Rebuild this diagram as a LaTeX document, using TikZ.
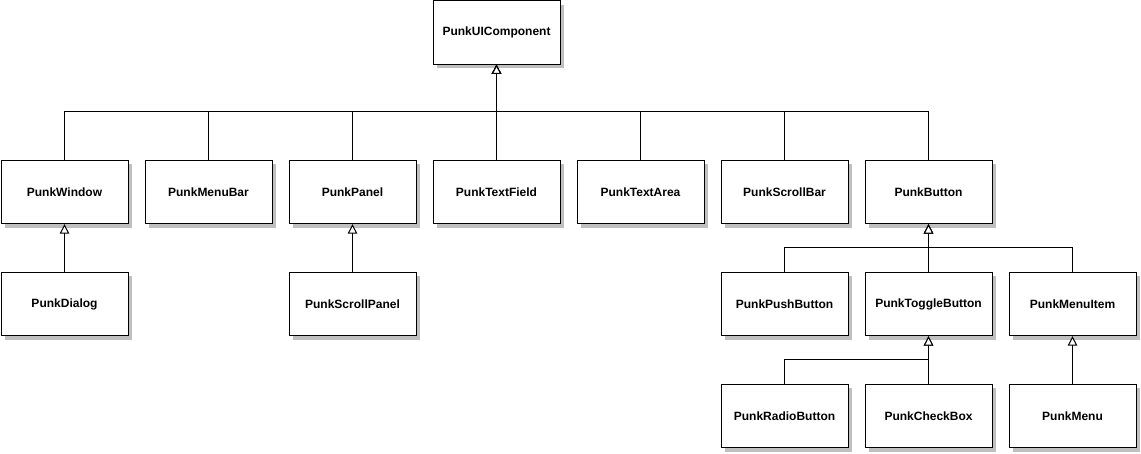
\documentclass[tikz,border=0pt]{standalone}
\usepackage{fontspec}
\setmainfont{Liberation Sans}
\usetikzlibrary{arrows.meta, shadows}

\begin{document}
\begin{tikzpicture}[x = 0.75pt, y = -0.75pt, line width = 0.75pt,
	> = {Triangle[open, length = 7pt, width = 7pt, fill = white]},
	cls/.style = {draw, fill = white, minimum width = 95.25pt, minimum height = 47.5pt,
		font = \fontsize{9}{11}\selectfont\bfseries,
		drop shadow = {shadow xshift = 3pt, shadow yshift = -3pt, fill = black!25, opacity = 1}}]

\useasboundingbox (0, 0) rectangle (1141, 453);

% root
\node [cls] (comp) at (496.5, 32.5) {PunkUIComponent};

% first level
\node [cls] (window)  at (64.5, 192)  {PunkWindow};
\node [cls] (menubar) at (208.5, 192) {PunkMenuBar};
\node [cls] (panel)   at (352.5, 192) {PunkPanel};
\node [cls] (field)   at (496.5, 192) {PunkTextField};
\node [cls] (area)    at (640.5, 192) {PunkTextArea};
\node [cls] (scroll)  at (784.5, 192) {PunkScrollBar};
\node [cls] (button)  at (928.5, 192) {PunkButton};

% second level
\node [cls] (dialog)   at (64.5, 304)   {PunkDialog};
\node [cls] (spanel)   at (352.5, 304)  {PunkScrollPanel};
\node [cls] (push)     at (784.5, 304)  {PunkPushButton};
\node [cls] (toggle)   at (928.5, 304)  {PunkToggleButton};
\node [cls] (menuitem) at (1072.5, 304) {PunkMenuItem};

% third level
\node [cls] (radio) at (784.5, 416)  {PunkRadioButton};
\node [cls] (check) at (928.5, 416)  {PunkCheckBox};
\node [cls] (menu)  at (1072.5, 416) {PunkMenu};

% inheritance
\foreach \child in {window, menubar, panel, field, area, scroll, button}
	\draw [->] (\child.north) -- ++(0, -48) -| (comp.south);

\draw [->] (dialog.north) -- (window.south);
\draw [->] (spanel.north) -- (panel.south);

\foreach \child in {push, toggle, menuitem}
	\draw [->] (\child.north) -- ++(0, -24) -| (button.south);

\foreach \child in {radio, check}
	\draw [->] (\child.north) -- ++(0, -24) -| (toggle.south);

\draw [->] (menu.north) -- (menuitem.south);

\end{tikzpicture}
\end{document}
